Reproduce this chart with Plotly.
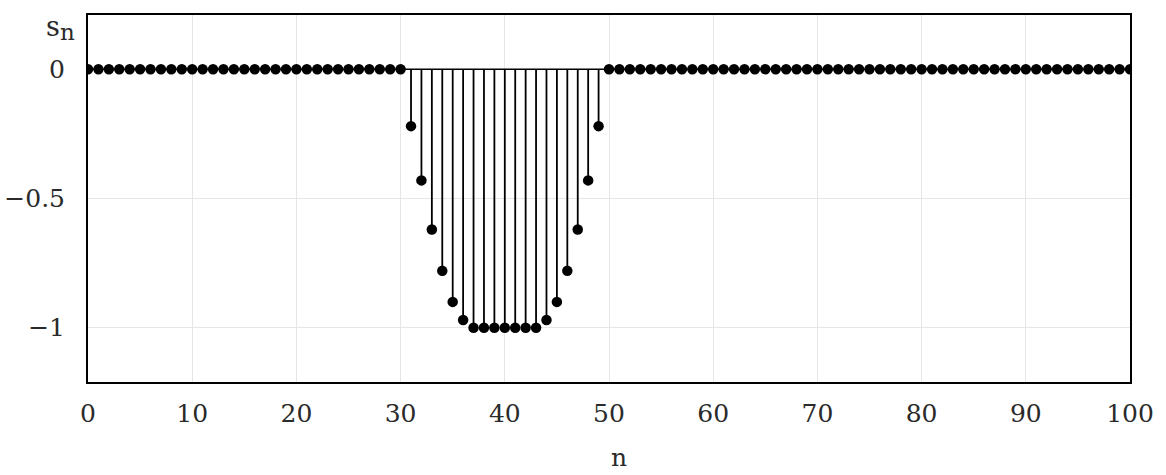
import plotly.graph_objects as go

n = list(range(0, 101))
s_left = [0, 0, 0, 0, 0, 0, 0, 0, 0, 0,
          0, 0, 0, 0, 0, 0, 0, 0, 0, 0,
          0, 0, 0, 0, 0, 0, 0, 0, 0, 0, 0]          # n = 0..30
s_dip = [-0.22, -0.43, -0.62, -0.78, -0.90, -0.97,
         -1.0, -1.0, -1.0, -1.0, -1.0, -1.0, -1.0,
         -0.97, -0.90, -0.78, -0.62, -0.43, -0.22]   # n = 31..49
s_right = [0, 0, 0, 0, 0, 0, 0, 0, 0, 0,
           0, 0, 0, 0, 0, 0, 0, 0, 0, 0,
           0, 0, 0, 0, 0, 0, 0, 0, 0, 0,
           0, 0, 0, 0, 0, 0, 0, 0, 0, 0,
           0, 0, 0, 0, 0, 0, 0, 0, 0, 0, 0]       # n = 50..100
s = s_left + s_dip + s_right

x_ticks = [0, 10, 20, 30, 40, 50, 60, 70, 80, 90, 100]
y_ticks = [0, -0.5, -1]
y_tick_labels = ["0", "\u22120.5", "\u22121"]

FONT = "DejaVu Serif"
TXT = "#2a2a2a"

# stems built from the data
stem_x, stem_y = [], []
for xi, yi in zip(n, s):
    if yi != 0:
        stem_x += [xi, xi, None]
        stem_y += [0, yi, None]

fig = go.Figure()
fig.add_trace(go.Scatter(x=[n[0], n[-1]], y=[0, 0], mode="lines",
                         line=dict(color="black", width=1.3), hoverinfo="skip"))
fig.add_trace(go.Scatter(x=stem_x, y=stem_y, mode="lines",
                         line=dict(color="black", width=1.8), hoverinfo="skip"))
fig.add_trace(go.Scatter(x=n, y=s, mode="markers",
                         marker=dict(color="black", size=10.5, symbol="circle")))

fig.update_layout(
    width=1166, height=475,
    margin=dict(l=88, r=36, t=15, b=93),
    paper_bgcolor="white", plot_bgcolor="white",
    showlegend=False,
    font=dict(family=FONT, size=24, color=TXT),
    xaxis=dict(range=[0, 100], tickvals=x_ticks, ticktext=[str(v) for v in x_ticks],
               automargin=False,
               showgrid=True, gridcolor="#e6e6e6", gridwidth=1,
               showline=True, linecolor="black", linewidth=2, mirror=True,
               zeroline=False, ticks="outside", ticklen=8, tickcolor="rgba(0,0,0,0)",
               tickfont=dict(family=FONT, size=25, color=TXT)),
    yaxis=dict(range=[-1.21, 0.21], tickvals=y_ticks, ticktext=y_tick_labels,
               automargin=False,
               showgrid=True, gridcolor="#e6e6e6", gridwidth=1,
               showline=True, linecolor="black", linewidth=2, mirror=True,
               zeroline=False, ticks="outside", ticklen=16, tickcolor="rgba(0,0,0,0)",
               tickfont=dict(family=FONT, size=25, color=TXT)),
    annotations=[
        dict(text="s", xref="paper", yref="paper", x=-0.0245, y=1.015,
             xanchor="right", yanchor="top", showarrow=False,
             font=dict(family=FONT, size=27, color=TXT)),
        dict(text="n", xref="paper", yref="paper", x=-0.0105, y=0.995,
             xanchor="right", yanchor="top", showarrow=False,
             font=dict(family=FONT, size=23, color=TXT)),
        dict(text="n", xref="paper", yref="paper", x=0.51, y=-0.25,
             xanchor="center", yanchor="bottom", showarrow=False,
             font=dict(family=FONT, size=25, color=TXT)),
    ],
)

fig.write_html("out.html")
